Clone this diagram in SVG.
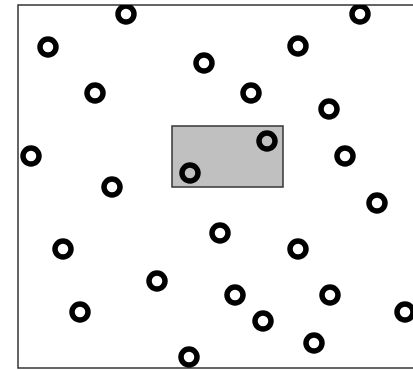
<svg xmlns="http://www.w3.org/2000/svg" width="413" height="370" viewBox="0 0 413 370">
<style>
.c{fill:none;stroke:#000;stroke-width:5.5}
.frame{fill:#fff;stroke:#333;stroke-width:1.5}
.sel{fill:#c0c0c0;stroke:#333;stroke-width:1.5}
</style>
<defs>
<clipPath id="fc"><rect x="18" y="5" width="400" height="363"/></clipPath>
</defs>
<rect width="413" height="370" fill="#fff"/>
<rect class="frame" x="18" y="5" width="400" height="363"/>
<g id="selection"><rect class="sel" x="172" y="126" width="111" height="61"/></g>
<g id="nodes" clip-path="url(#fc)">
<circle id="n1" class="c" cx="126" cy="14" r="8"/>
<circle id="n2" class="c" cx="360" cy="14" r="8"/>
<circle id="n3" class="c" cx="48" cy="47" r="8"/>
<circle id="n4" class="c" cx="298" cy="46" r="8"/>
<circle id="n5" class="c" cx="204" cy="63" r="8"/>
<circle id="n6" class="c" cx="95" cy="93" r="8"/>
<circle id="n7" class="c" cx="251" cy="93" r="8"/>
<circle id="n8" class="c" cx="329" cy="109" r="8"/>
<circle id="n9" class="c" cx="31" cy="156" r="8"/>
<circle id="n10" class="c" cx="267" cy="141" r="8"/>
<circle id="n11" class="c" cx="190" cy="173" r="8"/>
<circle id="n12" class="c" cx="345" cy="156" r="8"/>
<circle id="n13" class="c" cx="112" cy="187" r="8"/>
<circle id="n14" class="c" cx="377" cy="203" r="8"/>
<circle id="n15" class="c" cx="220" cy="233" r="8"/>
<circle id="n16" class="c" cx="63" cy="249" r="8"/>
<circle id="n17" class="c" cx="298" cy="249" r="8"/>
<circle id="n18" class="c" cx="157" cy="281" r="8"/>
<circle id="n19" class="c" cx="235" cy="295" r="8"/>
<circle id="n20" class="c" cx="330" cy="295" r="8"/>
<circle id="n21" class="c" cx="405" cy="312" r="8"/>
<circle id="n22" class="c" cx="80" cy="312" r="8"/>
<circle id="n23" class="c" cx="263" cy="321" r="8"/>
<circle id="n24" class="c" cx="314" cy="343" r="8"/>
<circle id="n25" class="c" cx="189" cy="357" r="8"/>
</g>
<g id="connectors"/>
</svg>
